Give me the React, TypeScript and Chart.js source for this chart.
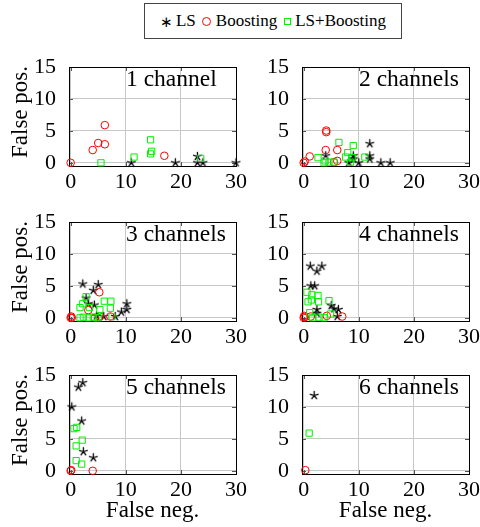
import { useEffect, useRef } from "react";
import { Chart, registerables } from "chart.js";
Chart.register(...registerables);

const xTicks = [0, 10, 20, 30];
const yTicks = [0, 5, 10, 15];
const panelTitles = ["1 channel", "2 channels", "3 channels", "4 channels", "5 channels", "6 channels"];
const seriesNames = ["LS", "Boosting", "LS+Boosting"];

const ls1 = [[11, 0], [19, 0], [23, 1], [23, 0], [24, 0], [30, 0]];
const boost1 = [[0, 0], [6.2, 5.9], [5, 3.1], [6.2, 2.9], [4, 2], [17, 1.1]];
const lsb1 = [[5.5, 0], [11.5, 0.9], [14.5, 3.6], [14.7, 1.8], [14.5, 1.4], [23.6, 0.7]];

const ls2 = [[12, 3], [12, 1.1], [12, 0.6], [9, 1.1], [9, 0.6], [4, 1.1], [10, 0], [14, 0], [15.7, 0], [8.2, 0]];
const boost2 = [[0, 0], [0.2, 0.2], [1.1, 1], [4.1, 5.05], [4.1, 4.8], [4, 2], [6.1, 2], [6.1, 0.3], [5.5, 0.1]];
const lsb2 = [[6.4, 3.2], [9, 2.7], [2.6, 0.8], [3.9, 0.3], [4.6, 0.1], [5.5, 0.1], [8, 1.6], [7.6, 0.9], [8.8, 0.8], [11.1, 0.9], [3.7, 0], [8.5, 0.1]];

const ls3 = [[2.2, 5.3], [5, 5.2], [4.1, 4.3], [3.2, 2.2], [4.3, 2], [10.2, 2.2], [10.2, 1.3], [9.2, 0.9], [8.1, 0.2], [2.8, 3.1], [4.7, 0.3], [6, 0.2]];
const boost3 = [[0, 0], [0.1, 0.2], [0.2, 0], [5.2, 4], [3.2, 1.2], [4.4, 0], [7.2, 0.2], [5.3, 0.2]];
const lsb3 = [[2.8, 3.3], [2.2, 2.2], [1.7, 1.6], [3.4, 1.6], [6.1, 2.6], [7.3, 2.6], [7.2, 1.5], [5.3, 1.3], [2.3, 0.1], [3.2, 0], [4.1, 0.1], [5, 0], [7.5, 0.2], [1.7, 0]];

const ls4 = [[1.2, 8.1], [3.3, 8.1], [2.4, 7.3], [1.3, 5], [2, 5], [5, 1.9], [5.5, 1.4], [6.3, 1.3], [2.4, 1.3], [2.4, 0.7], [6.1, 0.2]];
const boost4 = [[0, 0], [0.2, 0.1], [0.1, 0.3], [7, 0.2], [4.2, 0.3], [1.3, 0.2]];
const lsb4 = [[0.6, 4], [1.5, 3.6], [2.6, 3.5], [0.8, 2.5], [2.7, 2.5], [4.6, 2.7], [1.4, 2.8], [1.1, 0.8], [4.9, 0.6], [2.8, 0.1], [3.7, 0], [1.6, 0]];

const ls5 = [[1.4, 13.1], [2.2, 13.8], [0.2, 10], [2, 7.8], [2.3, 3], [4.1, 2.05]];
const boost5 = [[0, 0], [0.1, 0.1], [4, 0]];
const lsb5 = [[0.6, 6.6], [1.1, 6.8], [2.1, 4.8], [1, 3.9], [1, 1.6], [2, 1.05]];

const ls6 = [[1.9, 11.8]];
const boost6 = [[0.3, 0.1]];
const lsb6 = [[1, 5.9]];

const lsData = [ls1, ls2, ls3, ls4, ls5, ls6];
const boostData = [boost1, boost2, boost3, boost4, boost5, boost6];
const lsbData = [lsb1, lsb2, lsb3, lsb4, lsb5, lsb6];

const FONT = "'Liberation Serif', 'Times New Roman', Times, serif";
const RED = "#ff0000";
const GREEN = "#00f000";

const COL_LEFT = [69, 302];
const ROW_TOP = [57, 212, 365];
const PW = 167;
const PH = 109;
const PAD_L = 60;
const PAD_T = 14;
const PAD_R = 16;
const PAD_B = 34;

function makeStar(): HTMLCanvasElement {
  const c = document.createElement("canvas");
  c.width = 11;
  c.height = 11;
  const ctx = c.getContext("2d")!;
  ctx.strokeStyle = "#000";
  ctx.lineWidth = 1.3;
  ctx.lineCap = "round";
  ctx.beginPath();
  for (let k = 0; k < 5; k++) {
    const a = -Math.PI / 2 + (k * 2 * Math.PI) / 5;
    ctx.moveTo(5.5, 5.5);
    ctx.lineTo(5.5 + 4 * Math.cos(a), 5.5 + 4 * Math.sin(a));
  }
  ctx.stroke();
  return c;
}

const framePlugin = {
  id: "frame",
  beforeDatasetsDraw(chart: any) {
    const { ctx, chartArea } = chart;
    const { left, right, top, bottom } = chartArea;
    const xs = chart.scales.x;
    const ys = chart.scales.y;
    ctx.save();
    ctx.strokeStyle = "#555";
    ctx.lineWidth = 1;
    ctx.beginPath();
    for (const v of xTicks) {
      const p = Math.round(xs.getPixelForValue(v)) + 0.5;
      ctx.moveTo(p, bottom);
      ctx.lineTo(p, bottom - 4);
      ctx.moveTo(p, top);
      ctx.lineTo(p, top + 4);
    }
    for (const v of yTicks) {
      const p = Math.round(ys.getPixelForValue(v)) + 0.5;
      ctx.moveTo(left, p);
      ctx.lineTo(left + 4, p);
      ctx.moveTo(right, p);
      ctx.lineTo(right - 4, p);
    }
    ctx.stroke();
    ctx.strokeStyle = "#000";
    ctx.strokeRect(Math.round(left) + 0.5, Math.round(top) + 0.5, Math.round(right - left), Math.round(bottom - top));
    ctx.restore();
  },
};

function toPts(arr: number[][]) {
  return arr.map(([x, y]) => ({ x, y }));
}

function Panel({ idx }: { idx: number }) {
  const ref = useRef<HTMLCanvasElement>(null);
  const col = idx % 2;
  const row = Math.floor(idx / 2);
  const w = PAD_L + PW + PAD_R;
  const h = PAD_T + PH + PAD_B;
  useEffect(() => {
    const star = makeStar();
    const tickFont = { family: FONT, size: 22, lineHeight: 1 };
    const chart = new Chart(ref.current!, {
      type: "scatter",
      data: {
        datasets: [
          {
            label: seriesNames[2],
            data: toPts(lsbData[idx]),
            pointStyle: "rect",
            pointRadius: 4.4,
            pointBorderWidth: 1,
            borderColor: GREEN,
            backgroundColor: "rgba(0,0,0,0)",
            clip: false,
          },
          {
            label: seriesNames[1],
            data: toPts(boostData[idx]),
            pointStyle: "circle",
            pointRadius: 3.8,
            pointBorderWidth: 1,
            borderColor: RED,
            backgroundColor: "rgba(0,0,0,0)",
            clip: false,
          },
          {
            label: seriesNames[0],
            data: toPts(lsData[idx]),
            pointStyle: star as any,
            pointRadius: 4,
            borderColor: "#000",
            backgroundColor: "#000",
            clip: false,
          },
        ],
      },
      options: {
        animation: false,
        responsive: false,
        maintainAspectRatio: false,
        layout: { padding: { left: 0, top: PAD_T, right: PAD_R, bottom: 0 } },
        plugins: { legend: { display: false }, tooltip: { enabled: false } },
        scales: {
          x: {
            type: "linear",
            min: -0.3,
            max: 30,
            afterBuildTicks: (s: any) => {
              s.ticks = xTicks.map((v) => ({ value: v }));
            },
            afterFit: (s: any) => {
              s.height = PAD_B;
            },
            grid: { color: "#c8c8c8", drawTicks: false, lineWidth: 1 },
            border: { display: false },
            ticks: { font: tickFont, color: "#000", padding: 5, maxRotation: 0, autoSkip: false },
          },
          y: {
            type: "linear",
            min: -0.5,
            max: 15,
            afterBuildTicks: (s: any) => {
              s.ticks = yTicks.map((v) => ({ value: v }));
            },
            afterFit: (s: any) => {
              s.width = PAD_L;
            },
            grid: { color: "#c8c8c8", drawTicks: false, lineWidth: 1 },
            border: { display: false },
            ticks: { font: tickFont, color: "#000", padding: 13, autoSkip: false },
          },
        },
      },
      plugins: [framePlugin],
    } as any);
    return () => chart.destroy();
  }, [idx]);
  return (
    <>
      <canvas
        ref={ref}
        width={w}
        height={h}
        style={{ position: "absolute", left: COL_LEFT[col] - PAD_L, top: ROW_TOP[row] - PAD_T, width: w, height: h }}
      />
      <div
        style={{
          position: "absolute",
          left: COL_LEFT[col] + 57,
          top: ROW_TOP[row] + 10,
          fontFamily: FONT,
          fontSize: 23.5,
          lineHeight: "23px",
          whiteSpace: "nowrap",
          color: "#000",
        }}
      >
        {panelTitles[idx]}
      </div>
    </>
  );
}

export default function App() {
  const textBase = { fontFamily: FONT, color: "#000", whiteSpace: "nowrap" as const };
  return (
    <div style={{ position: "absolute", left: 0, top: 0, width: 480, height: 527, background: "#fff", overflow: "hidden" }}>
      <div
        style={{
          position: "absolute",
          left: 144,
          top: 3,
          width: 258,
          height: 36,
          boxSizing: "border-box",
          border: "1px solid #444",
          display: "flex",
          alignItems: "center",
          justifyContent: "center",
          fontSize: 17,
          ...textBase,
        }}
      >
        <span style={{ fontSize: 15, marginRight: 3, position: "relative", top: 1 }}>∗</span>
        <span>{seriesNames[0]}</span>
        <span style={{ display: "inline-block", width: 7, height: 7, border: `1px solid ${RED}`, borderRadius: "50%", margin: "0 5px 0 6px" }} />
        <span>{seriesNames[1]}</span>
        <span style={{ display: "inline-block", width: 5, height: 5, border: `1px solid ${GREEN}`, margin: "0 4px 0 7px" }} />
        <span>{seriesNames[2]}</span>
      </div>
      {[0, 1, 2, 3, 4, 5].map((i) => (
        <Panel key={i} idx={i} />
      ))}
      {ROW_TOP.map((t, r) => (
        <div
          key={"yl" + r}
          style={{
            ...textBase,
            position: "absolute",
            left: 19,
            top: t + PH / 2,
            fontSize: 23,
            lineHeight: "23px",
            transform: "translate(-50%, -50%) rotate(-90deg)",
          }}
        >
          False pos.
        </div>
      ))}
      {COL_LEFT.map((l, c) => (
        <div
          key={"xl" + c}
          style={{
            ...textBase,
            position: "absolute",
            left: l + PW / 2,
            top: 498,
            fontSize: 23,
            lineHeight: "23px",
            transform: "translateX(-50%)",
          }}
        >
          False neg.
        </div>
      ))}
    </div>
  );
}
